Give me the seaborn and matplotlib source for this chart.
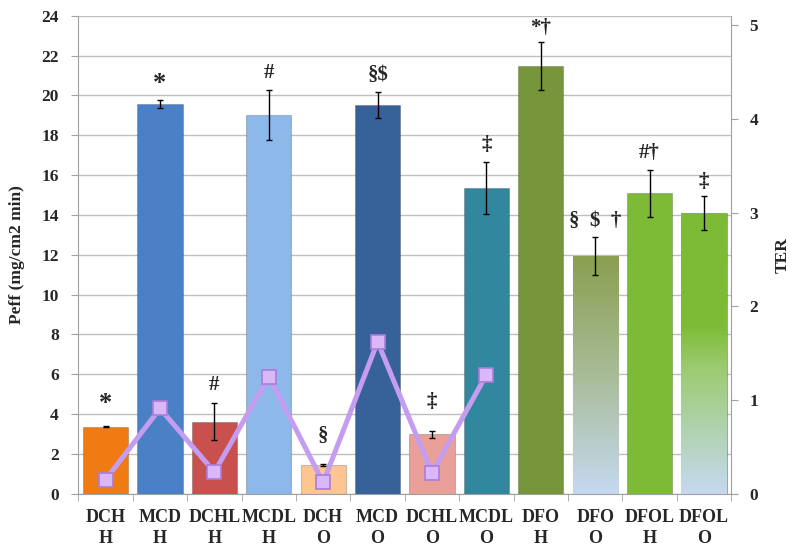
import numpy as np
import pandas as pd
import matplotlib
matplotlib.use("Agg")
import matplotlib.pyplot as plt
from matplotlib.colors import LinearSegmentedColormap
import seaborn as sns

# data
groups = ["DCH\nH", "MCD\nH", "DCHL\nH", "MCDL\nH", "DCH\nO", "MCD\nO",
          "DCHL\nO", "MCDL\nO", "DFO\nH", "DFO\nO", "DFOL\nH", "DFOL\nO"]
peff = [3.36, 19.56, 3.61, 19.01, 1.44, 19.51, 2.98, 15.36, 21.49, 11.93, 15.08, 14.08]
peff_err = [0.03, 0.2, 0.93, 1.27, 0.05, 0.66, 0.17, 1.3, 1.2, 0.94, 1.17, 0.86]
marks = ["*", "*", "#", "#", "§", "§$", "‡", "‡", "*†", "§  $  †", "#†", "‡"]
ter_groups = groups[:8]
ter = [0.15, 0.91, 0.23, 1.25, 0.12, 1.62, 0.22, 1.27]

bar_colors = ["#F07B12", "#4A80C6", "#C8514D", "#8DB8EA", "#FCC591", "#376299",
              "#E9A098", "#31879E", "#77953A", "#8A9F50", "#7DBB36", "#7DBB36"]
# gap above the error bar for each marker (points)
mark_pad = [8, 4, 6, 5, 13, 5, 14, 5, 3, 5, 5, 3]

sns.set_style("white")
plt.rcParams["font.family"] = ["Liberation Serif", "DejaVu Serif"]
plt.rcParams["font.weight"] = "bold"

df = pd.DataFrame({"group": groups, "peff": peff})

fig = plt.figure(figsize=(8, 5.51), dpi=100)
ax = fig.add_axes([0.098, 0.104, 0.816, 0.8675])

sns.barplot(data=df, x="group", y="peff", hue="group", palette=bar_colors,
            saturation=1, legend=False, width=0.83, ax=ax, zorder=2)

# thin darker outline + gradient fill on the two faded bars
for patch in ax.patches[:len(groups)]:
    patch.set_edgecolor("#00000030")
    patch.set_linewidth(0.8)

fades = {9: [(0.0, "#C6D9F1"), (0.5, "#A8BC98"), (1.0, "#8A9F50")],
         11: [(0.0, "#C6D9F1"), (0.45, "#9CCB70"), (0.6, "#7DBB36"), (1.0, "#7DBB36")]}
for i, stops in fades.items():
    patch = ax.patches[i]
    cmap = LinearSegmentedColormap.from_list(f"fade{i}", stops)
    x0 = patch.get_x()
    w = patch.get_width()
    h = patch.get_height()
    grad = np.linspace(0, 1, 256).reshape(-1, 1)
    im = ax.imshow(grad, cmap=cmap, origin="lower", aspect="auto",
                   extent=(x0, x0 + w, 0, h), zorder=2.1)
    im.set_clip_path(patch)

xpos = np.arange(len(groups))
ax.errorbar(xpos, peff, yerr=peff_err, fmt="none", ecolor="black",
            elinewidth=1, capsize=2.5, capthick=1, zorder=4)

for i, (m, top, e) in enumerate(zip(marks, peff, peff_err)):
    size = 19 if m == "*" else 15
    ax.annotate(m, (i, top + e), xytext=(0, mark_pad[i]), textcoords="offset points",
                ha="center", va="bottom", fontsize=size, fontweight="bold",
                family=["Liberation Serif", "DejaVu Sans"], zorder=5)

ax.set_xlim(-0.5, len(groups) - 0.5)
ax.set_ylim(0, 24)
ax.set_yticks(range(0, 25, 2))
ax.yaxis.grid(True, color="#BFBFBF", linewidth=1)
ax.set_axisbelow(True)
ax.set_xlabel("")
ax.set_ylabel("Peff (mg/cm2 min)", fontsize=12.5, fontweight="bold", labelpad=12)
ax.tick_params(axis="y", which="major", length=5, color="#A0A0A0", labelsize=12.5,
               pad=9, left=True)
ax.tick_params(axis="x", which="major", length=0, labelsize=13, pad=11)
ax.set_xticks(np.arange(-0.5, len(groups), 1.0), minor=True)
ax.tick_params(axis="x", which="minor", length=5, color="#A0A0A0", bottom=True)
for lab in ax.get_xticklabels() + ax.get_yticklabels():
    lab.set_fontweight("bold")
    lab.set_linespacing(1.3)

for side in ["left", "bottom"]:
    ax.spines[side].set_color("#A0A0A0")
ax.spines["top"].set_visible(False)
ax.spines["right"].set_visible(False)

# TER line on the right axis
ax2 = ax.twinx()
sns.lineplot(x=np.arange(len(ter_groups)), y=ter, ax=ax2, color="#C49CF0",
             linewidth=3.6, marker="s", markersize=10, markerfacecolor="#DAB8F7",
             markeredgecolor="#A97DDC", markeredgewidth=1.2, zorder=6)
ax2.set_ylim(0, 5.1)
ax2.set_yticks(range(0, 6))
ax2.set_ylabel("TER", fontsize=12.5, fontweight="bold", labelpad=12)
ax2.tick_params(axis="y", length=5, color="#A0A0A0", labelsize=12.5, pad=8)
for lab in ax2.get_yticklabels():
    lab.set_fontweight("bold")
ax2.spines["right"].set_color("#A0A0A0")
for side in ["left", "top", "bottom"]:
    ax2.spines[side].set_visible(False)
ax2.grid(False)

fig.savefig("out.png", dpi=100)
